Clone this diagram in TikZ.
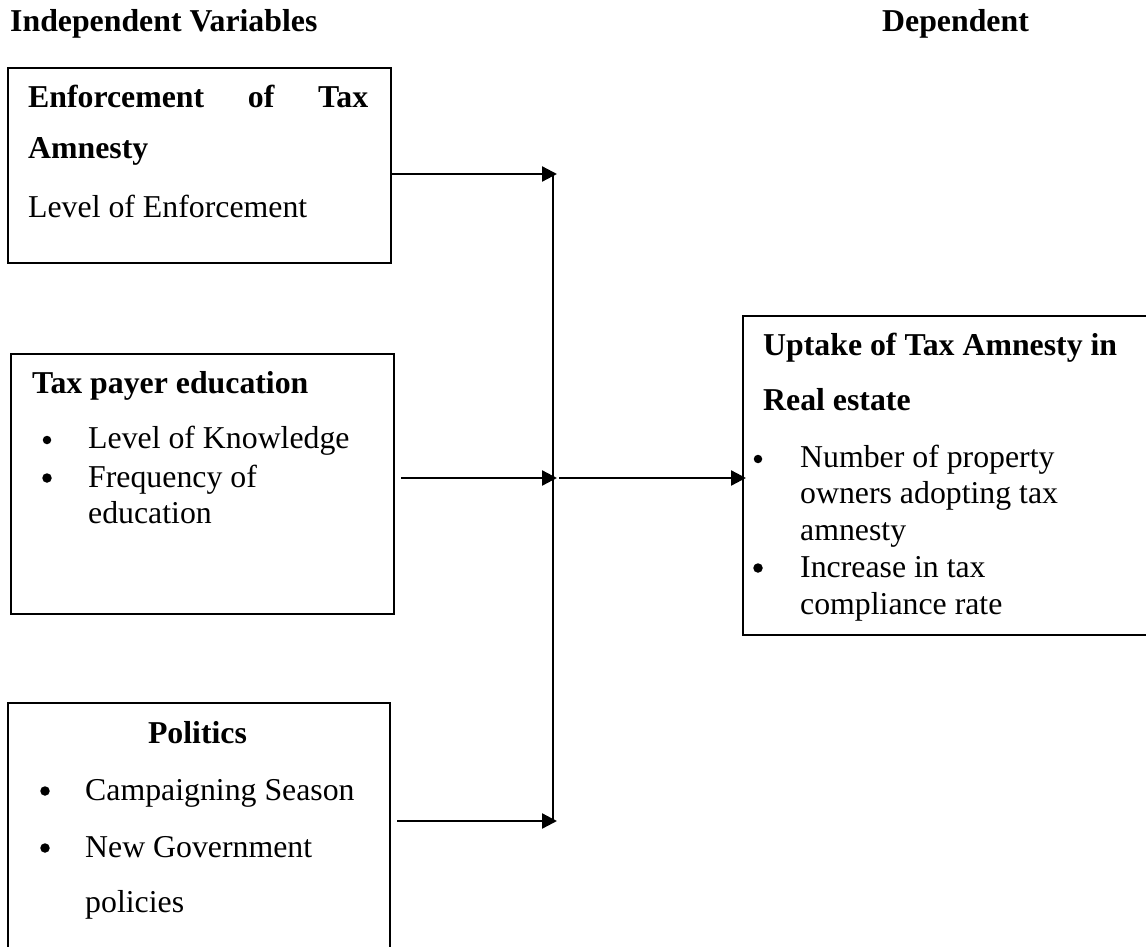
\documentclass[tikz,border=0pt]{standalone}
\usepackage{fontspec}
\setmainfont{Liberation Serif}
\usetikzlibrary{arrows.meta,calc}
\begin{document}
\begin{tikzpicture}[x=1pt,y=-1pt,
  txt/.style={inner sep=0pt, anchor=base west, font=\fontsize{31.8}{38}\selectfont},
  btxt/.style={inner sep=0pt, anchor=base west, font=\fontsize{31.8}{38}\selectfont\bfseries},
  bul/.style={circle, fill=black, inner sep=0pt, minimum size=9.5pt},
  box/.style={draw, line width=2pt, anchor=north west, inner sep=0pt},
  arr/.style={line width=2.3pt, -{Triangle[length=15pt,width=15pt]}},
  ln/.style={line width=2.3pt}]
\useasboundingbox (0,0) rectangle (1146,947);
\fill[white] (0,0) rectangle (1146,947);

% headings
\node[btxt] (hind) at (10,32) {Independent Variables};
\node[btxt] (hdep) at (882,32) {Dependent};

% boxes
\node[box, minimum width=383pt, minimum height=195pt] (b1) at (7,67) {};
\node[box, minimum width=383pt, minimum height=260pt] (b2) at (10,353) {};
\node[box, minimum width=420pt, minimum height=319pt] (b3) at (742,315) {};
\node[box, minimum width=382pt, minimum height=262pt] (b4) at (7,702) {};

% box 1 text
\node[btxt] (e1) at (28,108) {\makebox[340pt][s]{Enforcement of Tax}};
\node[btxt] (e2) at (28,159) {Amnesty};
\node[txt] (e3) at (28,217) {Level of Enforcement};

% box 2 text
\node[btxt] (p0) at (32,393) {Tax payer education};
\node[bul, minimum size=8.5pt] (pb1) at (47,440) {};
\node[txt] (p1) at (88,448) {Level of Knowledge};
\node[bul] (pb2) at (47,478) {};
\node[txt] (p2) at (88,487) {Frequency of};
\node[txt] (p3) at (88,523) {education};

% box 3 text
\node[btxt] (u0) at (763,355) {Uptake of Tax Amnesty in};
\node[btxt] (u1) at (763,410) {Real estate};
\node[bul, minimum size=8.5pt] (ub1) at (758,459) {};
\node[txt] (u2) at (800,467) {Number of property};
\node[txt] (u3) at (800,503) {owners adopting tax};
\node[txt] (u4) at (800,540) {amnesty};
\node[bul] (ub2) at (758,568) {};
\node[txt] (u5) at (800,577) {Increase in tax};
\node[txt] (u6) at (800,614) {compliance rate};

% box 4 text
\node[inner sep=0pt, anchor=base, font=\fontsize{31.8}{38}\selectfont\bfseries] (o0) at (197.5,743) {Politics};
\node[bul] (ob1) at (45,791) {};
\node[txt] (o1) at (85,800) {Campaigning Season};
\node[bul] (ob2) at (45,848) {};
\node[txt] (o2) at (85,857) {New Government};
\node[txt] (o3) at (85,912) {policies};

% connectors
\coordinate (j1) at (553,174);
\coordinate (j2) at (553,478);
\coordinate (j3) at (553,821);
\draw[ln] (j1) -- (j3);
\draw[arr] (b1.east |- j1) -- ($(j1)+(4,0)$);
\draw[arr] ($(b2.east |- j2)+(6,0)$) -- ($(j2)+(4,0)$);
\draw[arr] ($(b4.east |- j3)+(6,0)$) -- ($(j3)+(4,0)$);
\draw[arr] ($(j2)+(6,0)$) -- ($(b3.west |- j2)+(4,0)$);
\end{tikzpicture}
\end{document}
